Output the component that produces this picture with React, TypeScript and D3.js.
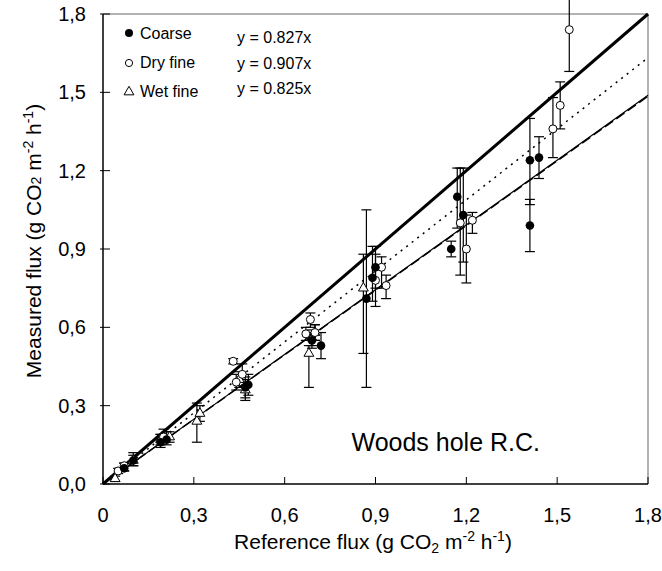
import React from "react";
import * as d3 from "d3";

const tickValues = [0, 0.3, 0.6, 0.9, 1.2, 1.5, 1.8];
const xTickLabels = ["0", "0,3", "0,6", "0,9", "1,2", "1,5", "1,8"];
const yTickLabels = ["0,0", "0,3", "0,6", "0,9", "1,2", "1,5", "1,8"];

// Coarse (filled circles)
const coarseX = [0.07, 0.1, 0.19, 0.21, 0.47, 0.48, 0.69, 0.72, 0.87, 0.89, 0.9, 1.15, 1.17, 1.19, 1.41, 1.41, 1.44];
const coarseY = [0.06, 0.09, 0.16, 0.17, 0.37, 0.38, 0.55, 0.53, 0.71, 0.79, 0.83, 0.9, 1.1, 1.03, 1.24, 0.99, 1.25];
const coarseLo = [0.05, 0.07, 0.14, 0.15, 0.33, 0.34, 0.52, 0.48, 0.37, 0.7, 0.75, 0.87, 0.98, 0.85, 1.07, 0.89, 1.17];
const coarseHi = [0.08, 0.11, 0.19, 0.2, 0.41, 0.42, 0.58, 0.58, 1.05, 0.91, 0.91, 0.93, 1.21, 1.21, 1.4, 1.09, 1.33];

// Dry fine (open circles)
const dryX = [0.05, 0.07, 0.2, 0.43, 0.44, 0.46, 0.685, 0.67, 0.7, 0.9, 0.92, 0.935, 1.18, 1.2, 1.22, 1.486, 1.51, 1.54];
const dryY = [0.05, 0.07, 0.18, 0.47, 0.39, 0.42, 0.63, 0.575, 0.58, 0.78, 0.83, 0.76, 1.0, 0.9, 1.01, 1.36, 1.45, 1.74];
const dryLo = [0.04, 0.05, 0.16, 0.46, 0.36, 0.39, 0.6, 0.55, 0.55, 0.68, 0.75, 0.71, 0.8, 0.77, 0.96, 1.25, 1.36, 1.58];
const dryHi = [0.06, 0.08, 0.21, 0.48, 0.42, 0.46, 0.655, 0.6, 0.61, 0.88, 0.87, 0.8, 1.21, 1.03, 1.04, 1.48, 1.54, 1.9];

// Wet fine (triangles)
const wetX = [0.04, 0.1, 0.19, 0.22, 0.31, 0.32, 0.45, 0.47, 0.68, 0.69, 0.7, 0.86];
const wetY = [0.02, 0.09, 0.17, 0.18, 0.24, 0.27, 0.4, 0.36, 0.5, 0.56, 0.58, 0.75];
const wetLo = [0.01, 0.07, 0.15, 0.16, 0.16, 0.24, 0.37, 0.32, 0.37, 0.53, 0.55, 0.5];
const wetHi = [0.03, 0.12, 0.19, 0.2, 0.31, 0.3, 0.43, 0.4, 0.53, 0.59, 0.61, 0.88];

const seriesNames = ["Coarse", "Dry fine", "Wet fine"];
const equations = ["y = 0.827x", "y = 0.907x", "y = 0.825x"];
const slopes = [0.827, 0.907, 0.825];

const FONT = "'Liberation Sans', Arial, sans-serif";

export default function App() {
  const W = 662, H = 571;
  const x = d3.scaleLinear().domain([0, 1.8]).range([103, 648]);
  const y = d3.scaleLinear().domain([0, 1.8]).range([484, 14]);
  const line = d3.line<[number, number]>().x(d => x(d[0])).y(d => y(d[1]));
  const fitLine = (s: number) => line([[0, 0], [1.8, 1.8 * s]]) as string;
  const tri = d3.symbol().type(d3.symbolTriangle).size(42)() as string;
  const cap = 5;

  const errBars = (xs: number[], lo: number[], hi: number[], key: string) =>
    xs.map((xv, i) => (
      <g key={key + i} stroke="#000" strokeWidth={1.2}>
        <line x1={x(xv)} x2={x(xv)} y1={y(lo[i])} y2={y(hi[i])} />
        <line x1={x(xv) - cap} x2={x(xv) + cap} y1={y(lo[i])} y2={y(lo[i])} />
        <line x1={x(xv) - cap} x2={x(xv) + cap} y1={y(hi[i])} y2={y(hi[i])} />
      </g>
    ));

  return (
    <svg width={W} height={H} style={{ position: "absolute", left: 0, top: 0, background: "#fff" }} fontFamily={FONT}>
      <rect x={0} y={0} width={W} height={H} fill="#fff" />
      {/* frame */}
      <line x1={x(0)} x2={x(1.8)} y1={y(1.8)} y2={y(1.8)} stroke="#999" strokeWidth={1.5} />
      <line x1={x(1.8)} x2={x(1.8)} y1={y(0)} y2={y(1.8)} stroke="#999" strokeWidth={1.5} />
      <line x1={x(0)} x2={x(1.8)} y1={y(0)} y2={y(0)} stroke="#000" strokeWidth={1.5} />
      <line x1={x(0)} x2={x(0)} y1={y(0)} y2={y(1.8)} stroke="#000" strokeWidth={1.5} />
      {/* ticks */}
      {tickValues.map((t, i) => (
        <g key={"xt" + i}>
          <line x1={x(t)} x2={x(t)} y1={y(0)} y2={y(0) - 7} stroke="#000" strokeWidth={1} />
          <text x={x(t)} y={522} textAnchor="middle" fontSize={20} fill="#000">{xTickLabels[i]}</text>
        </g>
      ))}
      {tickValues.map((t, i) => (
        <g key={"yt" + i}>
          <line x1={x(0) - 3} x2={x(0) + 7} y1={y(t)} y2={y(t)} stroke="#000" strokeWidth={1} />
          <text x={86} y={y(t) + 7} textAnchor="end" fontSize={20} fill="#000">{yTickLabels[i]}</text>
        </g>
      ))}
      {/* axis titles */}
      <text x={373} y={549} textAnchor="middle" fontSize={21} fill="#000">
        Reference flux (g CO<tspan fontSize={14} dy={4}>2</tspan>
        <tspan dy={-4}> m</tspan><tspan fontSize={14} dy={-8}>-2</tspan>
        <tspan dy={8}> h</tspan><tspan fontSize={14} dy={-8}>-1</tspan>
        <tspan dy={8}>)</tspan>
      </text>
      <text transform={`translate(41,241) rotate(-90)`} textAnchor="middle" fontSize={21} fill="#000">
        Measured flux (g CO<tspan fontSize={14} dy={0}>2</tspan>
        <tspan dy={0}> m</tspan><tspan fontSize={14} dy={-8}>-2</tspan>
        <tspan dy={8}> h</tspan><tspan fontSize={14} dy={-8}>-1</tspan>
        <tspan dy={8}>)</tspan>
      </text>
      {/* fitted lines */}
      <path d={fitLine(1)} stroke="#000" strokeWidth={3} fill="none" />
      <path d={fitLine(slopes[1])} stroke="#000" strokeWidth={1.5} strokeDasharray="2,5" fill="none" />
      <path d={fitLine(slopes[0])} stroke="#000" strokeWidth={1.2} fill="none" />
      <path d={fitLine(slopes[2])} stroke="#000" strokeWidth={1.5} strokeDasharray="10,4" fill="none" />
      {/* error bars */}
      {errBars(coarseX, coarseLo, coarseHi, "ce")}
      {errBars(dryX, dryLo, dryHi, "de")}
      {errBars(wetX, wetLo, wetHi, "we")}
      {/* markers */}
      {wetX.map((xv, i) => (
        <path key={"w" + i} d={tri} transform={`translate(${x(xv)},${y(wetY[i])})`} fill="#fff" stroke="#000" strokeWidth={1} />
      ))}
      {dryX.map((xv, i) => (
        <circle key={"d" + i} cx={x(xv)} cy={y(dryY[i])} r={4} fill="#fff" stroke="#000" strokeWidth={1} />
      ))}
      {coarseX.map((xv, i) => (
        <circle key={"c" + i} cx={x(xv)} cy={y(coarseY[i])} r={4.3} fill="#000" />
      ))}
      {/* legend */}
      <circle cx={129} cy={33} r={4} fill="#000" />
      <circle cx={129} cy={63} r={3.6} fill="#fff" stroke="#000" strokeWidth={1} />
      <path d={tri} transform="translate(129,92)" fill="#fff" stroke="#000" strokeWidth={1} />
      {seriesNames.map((n, i) => (
        <text key={"ln" + i} x={140} y={[39, 68, 97][i]} fontSize={16} fill="#000">{n}</text>
      ))}
      {equations.map((e, i) => (
        <text key={"eq" + i} x={237} y={[43, 69, 94][i]} fontSize={16} fill="#000">{e}</text>
      ))}
      <text x={540} y={451} textAnchor="end" fontSize={25} fill="#000">Woods hole R.C.</text>
    </svg>
  );
}
